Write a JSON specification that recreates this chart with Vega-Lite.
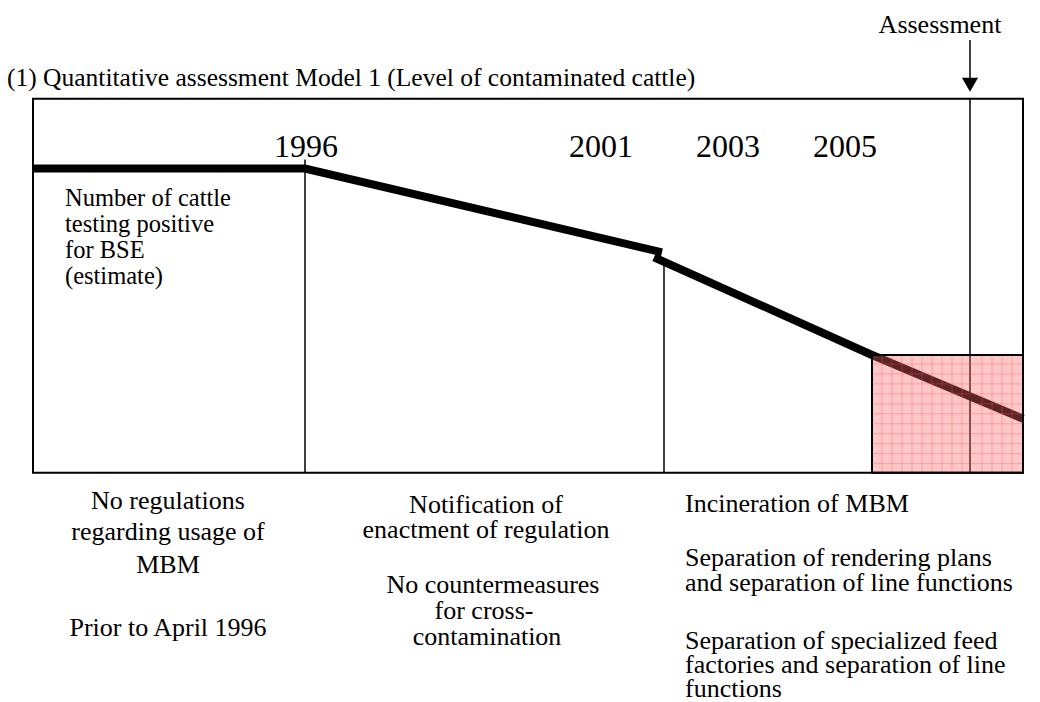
{
  "$schema": "https://vega.github.io/schema/vega-lite/v6.json",
  "width": 1040,
  "height": 702,
  "autosize": {"type": "fit", "contains": "padding"},
  "padding": 0,
  "background": "white",
  "config": {"view": {"stroke": null}, "text": {"font": "Liberation Serif", "color": "black"}},
  "datasets": {
    "frame": [{"x": 33, "y": 99, "x2": 1023, "y2": 474}],
    "pink": [{"x": 872, "y": 356, "x2": 1023, "y2": 474}],
    "curve": [
      {"seg": "a", "o": 1, "x": 33, "y": 169},
      {"seg": "a", "o": 2, "x": 305, "y": 169},
      {"seg": "a", "o": 3, "x": 662, "y": 253},
      {"seg": "b", "o": 1, "x": 654, "y": 258},
      {"seg": "b", "o": 2, "x": 872, "y": 356},
      {"seg": "b", "o": 3, "x": 1023, "y": 420}
    ],
    "vlines": [
      {"x": 305, "y": 160, "y2": 474},
      {"x": 664, "y": 259, "y2": 474},
      {"x": 970, "y": 99, "y2": 474},
      {"x": 970, "y": 40, "y2": 80}
    ],
    "gridv": [
      {"x": 882, "y": 356, "y2": 474}, {"x": 892, "y": 356, "y2": 474}, {"x": 902, "y": 356, "y2": 474},
      {"x": 912, "y": 356, "y2": 474}, {"x": 922, "y": 356, "y2": 474}, {"x": 932, "y": 356, "y2": 474},
      {"x": 942, "y": 356, "y2": 474}, {"x": 952, "y": 356, "y2": 474}, {"x": 962, "y": 356, "y2": 474},
      {"x": 982, "y": 356, "y2": 474}, {"x": 992, "y": 356, "y2": 474},
      {"x": 1002, "y": 356, "y2": 474}, {"x": 1012, "y": 356, "y2": 474}
    ],
    "gridh": [
      {"y": 365, "x": 872, "x2": 1023}, {"y": 375, "x": 872, "x2": 1023}, {"y": 385, "x": 872, "x2": 1023},
      {"y": 395, "x": 872, "x2": 1023}, {"y": 405, "x": 872, "x2": 1023}, {"y": 415, "x": 872, "x2": 1023},
      {"y": 425, "x": 872, "x2": 1023}, {"y": 435, "x": 872, "x2": 1023}, {"y": 445, "x": 872, "x2": 1023},
      {"y": 455, "x": 872, "x2": 1023}, {"y": 465, "x": 872, "x2": 1023}
    ],
    "arrowhead": [{"x": 970, "y": 85}],
    "texts": [
      {"g": "title", "x": 7, "y": 86, "t": "(1) Quantitative assessment Model 1 (Level of contaminated cattle)"},
      {"g": "assess", "x": 940, "y": 33, "t": "Assessment"},
      {"g": "year", "x": 306, "y": 157, "t": "1996"},
      {"g": "year", "x": 601, "y": 157, "t": "2001"},
      {"g": "year", "x": 728, "y": 157, "t": "2003"},
      {"g": "year", "x": 845, "y": 157, "t": "2005"},
      {"g": "left", "x": 65, "y": 207, "t": "Number of cattle"},
      {"g": "left", "x": 65, "y": 233, "t": "testing positive"},
      {"g": "left", "x": 65, "y": 259, "t": "for BSE"},
      {"g": "left", "x": 65, "y": 285, "t": "(estimate)"},
      {"g": "bc", "x": 168, "y": 510, "t": "No regulations"},
      {"g": "bc", "x": 168, "y": 542, "t": "regarding usage of"},
      {"g": "bc", "x": 168, "y": 575, "t": "MBM"},
      {"g": "bc", "x": 168, "y": 638, "t": "Prior to April 1996"},
      {"g": "bc", "x": 486, "y": 514, "t": "Notification of"},
      {"g": "bc", "x": 486, "y": 540, "t": "enactment of regulation"},
      {"g": "bc", "x": 493, "y": 595, "t": "No countermeasures"},
      {"g": "bc", "x": 484, "y": 621, "t": "for cross-"},
      {"g": "bc", "x": 487, "y": 647, "t": "contamination"},
      {"g": "bl", "x": 685, "y": 513, "t": "Incineration of MBM"},
      {"g": "bl", "x": 685, "y": 568, "t": "Separation of rendering plans"},
      {"g": "bl", "x": 685, "y": 593, "t": "and separation of line functions"},
      {"g": "bl", "x": 685, "y": 651, "t": "Separation of specialized feed"},
      {"g": "bl", "x": 685, "y": 675, "t": "factories and separation of line"},
      {"g": "bl", "x": 685, "y": 699, "t": "functions"}
    ]
  },
  "encoding": {
    "x": {"field": "x", "type": "quantitative", "scale": {"domain": [0, 1040], "nice": false, "zero": false}, "axis": null},
    "y": {"field": "y", "type": "quantitative", "scale": {"domain": [0, 702], "nice": false, "zero": false, "reverse": true}, "axis": null}
  },
  "layer": [
    {
      "data": {"name": "curve"},
      "mark": {"type": "line", "color": "black", "strokeWidth": 8, "strokeCap": "butt"},
      "encoding": {"detail": {"field": "seg"}, "order": {"field": "o", "type": "quantitative"}}
    },
    {
      "data": {"name": "vlines"},
      "mark": {"type": "rule", "color": "black", "strokeWidth": 1.5},
      "encoding": {"y2": {"field": "y2"}}
    },
    {
      "data": {"name": "pink"},
      "mark": {"type": "rect", "fill": "#ff6666", "fillOpacity": 0.36, "stroke": "black", "strokeWidth": 2},
      "encoding": {"x2": {"field": "x2"}, "y2": {"field": "y2"}}
    },
    {
      "data": {"name": "gridv"},
      "mark": {"type": "rule", "color": "#ff4d4d", "strokeWidth": 1, "opacity": 0.35},
      "encoding": {"y2": {"field": "y2"}}
    },
    {
      "data": {"name": "gridh"},
      "mark": {"type": "rule", "color": "#ff4d4d", "strokeWidth": 1, "opacity": 0.35},
      "encoding": {"x2": {"field": "x2"}}
    },
    {
      "data": {"name": "frame"},
      "mark": {"type": "rect", "fill": null, "fillOpacity": 0, "stroke": "black", "strokeWidth": 2},
      "encoding": {"x2": {"field": "x2"}, "y2": {"field": "y2"}}
    },
    {
      "data": {"name": "arrowhead"},
      "mark": {"type": "point", "shape": "triangle-down", "filled": true, "color": "black", "opacity": 1, "size": 260},
      "encoding": {}
    },
    {
      "data": {"name": "texts"},
      "transform": [{"filter": "datum.g === 'title'"}],
      "mark": {"type": "text", "align": "left", "baseline": "alphabetic", "fontSize": 25.5},
      "encoding": {"text": {"field": "t"}}
    },
    {
      "data": {"name": "texts"},
      "transform": [{"filter": "datum.g === 'assess'"}],
      "mark": {"type": "text", "align": "center", "baseline": "alphabetic", "fontSize": 26},
      "encoding": {"text": {"field": "t"}}
    },
    {
      "data": {"name": "texts"},
      "transform": [{"filter": "datum.g === 'year'"}],
      "mark": {"type": "text", "align": "center", "baseline": "alphabetic", "fontSize": 32},
      "encoding": {"text": {"field": "t"}}
    },
    {
      "data": {"name": "texts"},
      "transform": [{"filter": "datum.g === 'left'"}],
      "mark": {"type": "text", "align": "left", "baseline": "alphabetic", "fontSize": 24.5},
      "encoding": {"text": {"field": "t"}}
    },
    {
      "data": {"name": "texts"},
      "transform": [{"filter": "datum.g === 'bc'"}],
      "mark": {"type": "text", "align": "center", "baseline": "alphabetic", "fontSize": 26},
      "encoding": {"text": {"field": "t"}}
    },
    {
      "data": {"name": "texts"},
      "transform": [{"filter": "datum.g === 'bl'"}],
      "mark": {"type": "text", "align": "left", "baseline": "alphabetic", "fontSize": 26},
      "encoding": {"text": {"field": "t"}}
    }
  ]
}
